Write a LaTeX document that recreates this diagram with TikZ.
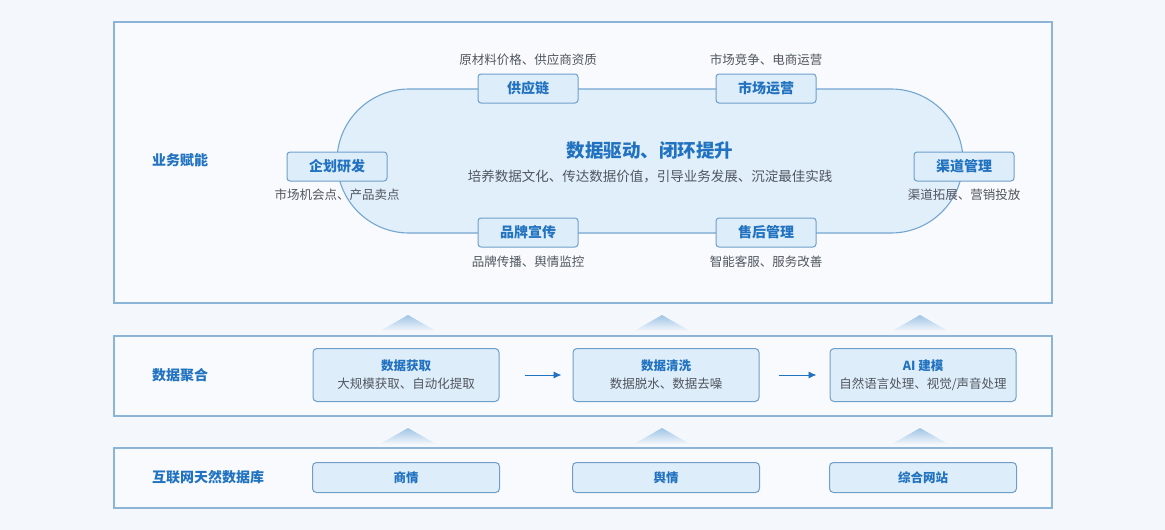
\documentclass[tikz,border=0pt]{standalone}
\usepackage{fontspec}
\setmainfont{Noto Sans CJK SC}
\usetikzlibrary{arrows.meta}
\definecolor{bgc}{HTML}{F4F7FB}
\definecolor{framec}{HTML}{8BB4D6}
\definecolor{boxfill}{HTML}{DEEDFA}
\definecolor{boxline}{HTML}{6F9FC9}
\definecolor{tblue}{HTML}{2172C0}
\definecolor{tgray}{HTML}{50565E}
\definecolor{stadfill}{HTML}{E1EFFB}
\definecolor{stadline}{HTML}{74A6D0}
\definecolor{tric}{HTML}{9EC4E6}
\tikzset{
  layerframe/.style={draw=framec, line width=1.1pt, fill=bgc!60!white},
  bizbox/.style={draw=boxline, fill=boxfill, rounded corners=3pt, line width=1pt,
    minimum width=100pt, minimum height=29pt, inner sep=0pt, text=tblue,
    font=\bfseries\fontsize{14}{16}\selectfont},
  notetext/.style={text=tgray, inner sep=0pt, font=\fontsize{12.5}{14}\selectfont},
  layerlabel/.style={text=tblue, inner sep=0pt, anchor=west, font=\bfseries\fontsize{14}{16}\selectfont},
  midbox/.style={draw=boxline, fill=boxfill, rounded corners=4pt, line width=1pt,
    minimum width=186pt, minimum height=53pt, inner sep=0pt, align=center,
    font=\fontsize{12.5}{18}\selectfont},
  srcbox/.style={draw=boxline, fill=boxfill, rounded corners=4pt, line width=1pt,
    minimum width=187pt, minimum height=30pt, inner sep=0pt, text=tblue,
    font=\bfseries\fontsize{12.5}{14}\selectfont},
  flowarrow/.style={draw=tblue, line width=0.9pt, -{Latex[length=8pt,width=7pt]}},
  uptri/.style={top color=tric, bottom color=bgc}
}
\newcommand{\uptriangle}[2]{\shade[uptri] (#1-28,#2+16) -- (#1,#2) -- (#1+28,#2+16) -- cycle;}
\begin{document}
\begin{tikzpicture}[x=1pt,y=-1pt]
\fill[bgc] (0,0) rectangle (1165,530);
\useasboundingbox (0,0) rectangle (1165,530);

% frames
\draw[layerframe] (114,22) rectangle (1052,303);
\draw[layerframe] (114,336) rectangle (1052,416);
\draw[layerframe] (114,448) rectangle (1052,508);

% layer labels
\node[layerlabel] (l1) at (152,160) {业务赋能};
\node[layerlabel] (l2) at (152,375) {数据聚合};
\node[layerlabel] (l3) at (152,477) {互联网天然数据库};

% stadium
\draw[draw=stadline, fill=stadfill, line width=1.1pt, rounded corners=72pt] (337,89) rectangle (963,233);

\node[text=tblue, inner sep=0pt, font=\bfseries\fontsize{18.5}{20}\selectfont] (title) at (650,150) {数据驱动、闭环提升};
\node[text=tgray, inner sep=0pt, font=\fontsize{13.5}{15}\selectfont] (sub) at (650,176) {培养数据文化、传达数据价值，引导业务发展、沉淀最佳实践};

% business boxes
\node[bizbox] (gyl) at (528,88.5) {供应链};
\node[notetext] (gyln) at (528,60) {原材料价格、供应商资质};
\node[bizbox] (scyy) at (766,88.5) {市场运营};
\node[notetext] (scyyn) at (766,60) {市场竞争、电商运营};
\node[bizbox] (qhyf) at (337,166.5) {企划研发};
\node[notetext] (qhyfn) at (337,195) {市场机会点、产品卖点};
\node[bizbox] (qdgl) at (964,166.5) {渠道管理};
\node[notetext] (qdgln) at (964,195) {渠道拓展、营销投放};
\node[bizbox] (ppxc) at (528,232.5) {品牌宣传};
\node[notetext] (ppxcn) at (528,262) {品牌传播、舆情监控};
\node[bizbox] (shgl) at (766,232.5) {售后管理};
\node[notetext] (shgln) at (766,262) {智能客服、服务改善};

% triangles
\uptriangle{408}{315}
\uptriangle{662}{315}
\uptriangle{920}{315}
\uptriangle{408}{428}
\uptriangle{662}{428}
\uptriangle{920}{428}

% middle layer
\node[midbox] (hq) at (406,375) {\textcolor{tblue}{\bfseries 数据获取}\\\textcolor{tgray}{大规模获取、自动化提取}};
\node[midbox] (qx) at (666,375) {\textcolor{tblue}{\bfseries 数据清洗}\\\textcolor{tgray}{数据脱水、数据去噪}};
\node[midbox] (jm) at (923,375) {\textcolor{tblue}{\bfseries AI 建模}\\\textcolor{tgray}{自然语言处理、视觉/声音处理}};
\draw[flowarrow, shorten <=25pt, shorten >=11pt] (hq.east) -- (qx.west);
\draw[flowarrow, shorten <=19pt, shorten >=13pt] (qx.east) -- (jm.west);

% source layer
\node[srcbox] (sq) at (406,477.5) {商情};
\node[srcbox] (yq) at (666,477.5) {舆情};
\node[srcbox] (zh) at (923,477.5) {综合网站};
\end{tikzpicture}
\end{document}
